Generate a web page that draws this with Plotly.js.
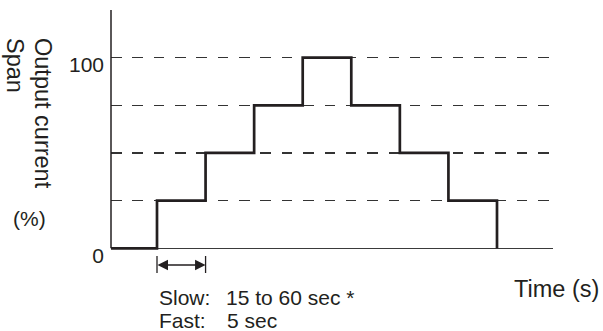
<!DOCTYPE html>
<html>
<head>
<meta charset="utf-8">
<script src="https://cdn.plot.ly/plotly-3.0.1.min.js"></script>
<style>html,body{margin:0;padding:0;background:#fff;}#chart{width:603px;height:331px;}</style>
</head>
<body>
<div id="chart"></div>
<script>
// ---- data ----
const stepTimes = [0, 1, 2, 3, 4, 5, 6, 7, 8];
const outputSpan = [0, 25, 50, 75, 100, 75, 50, 25, 0];
const gridLevels = [0, 25, 50, 75, 100];
const tickLabels = ['0', '', '', '', '100'];
const spanInterval = [1, 2];
const yTitleLines = ['Output current', 'Span'];
const unitLabel = '(%)';
const xTitle = 'Time (s)';
const noteLabels = ['Slow:', 'Fast:'];
const noteValues = ['15 to 60 sec *', '5 sec'];

// ---- layout helpers (pixel -> paper) ----
const W = 603, H = 331, ML = 111, MR = 50, MT = 10, MB = 77;
const PW = W - ML - MR, PH = H - MT - MB;
const fx = px => (px - ML) / PW;
const fy = py => (H - MB - py) / PH;

const ink = '#231f20';
const font = 'Arial, "Liberation Sans", Helvetica, sans-serif';

const trace = {
  x: stepTimes, y: outputSpan, type: 'scatter', mode: 'lines',
  line: {shape: 'hv', color: ink, width: 2.7},
  hoverinfo: 'skip', showlegend: false
};

const annotations = [
  {text: yTitleLines[0], textangle: 90, xref: 'paper', yref: 'paper', x: fx(43), y: fy(36.5),
   xanchor: 'center', yanchor: 'top', showarrow: false, borderpad: 0, font: {size: 23.5, color: ink, family: font}},
  {text: yTitleLines[1], textangle: 90, xref: 'paper', yref: 'paper', x: fx(15), y: fy(36.5),
   xanchor: 'center', yanchor: 'top', showarrow: false, borderpad: 0, font: {size: 23.5, color: ink, family: font}},
  {text: unitLabel, xref: 'paper', yref: 'paper', x: fx(29), y: fy(218),
   xanchor: 'center', yanchor: 'middle', showarrow: false, borderpad: 0, font: {size: 21, color: ink, family: font}},
  {text: xTitle, xref: 'paper', yref: 'paper', x: fx(599.5), y: fy(289),
   xanchor: 'right', yanchor: 'middle', showarrow: false, borderpad: 0, font: {size: 23.5, color: ink, family: font}},
  {text: noteLabels[0], xref: 'paper', yref: 'paper', x: fx(158), y: fy(297.5),
   xanchor: 'left', yanchor: 'middle', showarrow: false, borderpad: 0, font: {size: 21, color: ink, family: font}},
  {text: noteLabels[1], xref: 'paper', yref: 'paper', x: fx(158), y: fy(320.5),
   xanchor: 'left', yanchor: 'middle', showarrow: false, borderpad: 0, font: {size: 21, color: ink, family: font}},
  {text: noteValues[0], xref: 'paper', yref: 'paper', x: fx(225), y: fy(297.5),
   xanchor: 'left', yanchor: 'middle', showarrow: false, borderpad: 0, font: {size: 21, color: ink, family: font}},
  {text: noteValues[1], xref: 'paper', yref: 'paper', x: fx(225.5), y: fy(320.5),
   xanchor: 'left', yanchor: 'middle', showarrow: false, borderpad: 0, font: {size: 21, color: ink, family: font}},
  // double-headed interval arrow
  {text: '', xref: 'x', yref: 'paper', x: spanInterval[1], y: fy(265),
   axref: 'x', ayref: 'pixel', ax: spanInterval[0], ay: 0,
   showarrow: true, arrowside: 'end+start', arrowhead: 2, startarrowhead: 2,
   arrowsize: 1.5, startarrowsize: 1.5, arrowwidth: 1.4, arrowcolor: ink,
   standoff: 0, startstandoff: 0, borderpad: 0}
];

const shapes = [
  // y axis line
  {type: 'line', xref: 'paper', yref: 'y', x0: 0, x1: 0, y0: 0, y1: 125,
   line: {color: ink, width: 1.5}, layer: 'above'},
  // interval end bars
  {type: 'line', xref: 'x', yref: 'paper', x0: spanInterval[0], x1: spanInterval[0], y0: fy(256), y1: fy(273),
   line: {color: ink, width: 1.3}},
  {type: 'line', xref: 'x', yref: 'paper', x0: spanInterval[1], x1: spanInterval[1], y0: fy(256), y1: fy(273),
   line: {color: ink, width: 1.3}}
];

const layout = {
  width: W, height: H,
  margin: {l: ML, r: MR, t: MT, b: MB, pad: 0},
  paper_bgcolor: '#fff', plot_bgcolor: '#fff',
  showlegend: false,
  xaxis: {range: [0.053, 9.153], showgrid: false, zeroline: false, showline: false,
          showticklabels: false, ticks: '', fixedrange: true},
  yaxis: {range: [-3, 125], tickvals: gridLevels, ticktext: tickLabels,
          showgrid: true, gridcolor: '#333333', gridwidth: 1.5, griddash: '10.5px,10.85px',
          zeroline: true, zerolinecolor: '#3a3a3a', zerolinewidth: 1.5,
          showline: false, ticks: '', ticklabelshift: 7, ticklabelstandoff: 6,
          tickfont: {size: 21, color: ink, family: font}, fixedrange: true},
  annotations: annotations,
  shapes: shapes
};

Plotly.newPlot('chart', [trace], layout, {displayModeBar: false, staticPlot: true});
</script>
</body>
</html>
